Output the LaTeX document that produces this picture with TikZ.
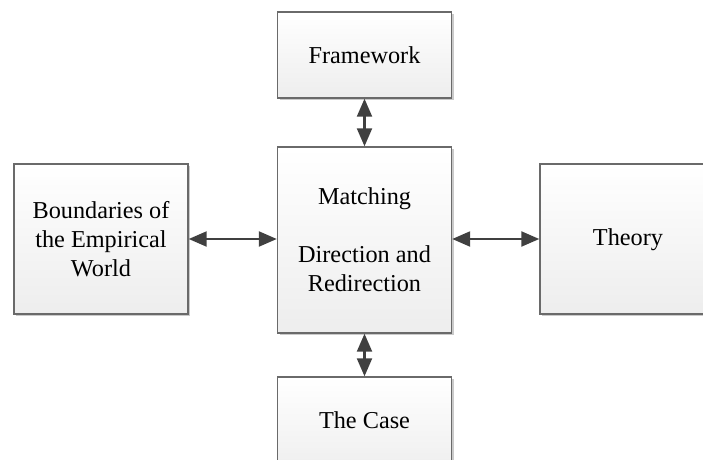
\documentclass[tikz,border=0pt]{standalone}
\usepackage{fontspec}
\setmainfont{Liberation Serif}
\usetikzlibrary{arrows.meta,shadows}
\definecolor{boxline}{HTML}{6A6A6A}
\definecolor{arrowgray}{HTML}{404040}
\tikzset{
  labeltext/.style={font=\fontsize{18.2}{21.75}\selectfont},
  block/.style={draw=boxline, line width=0.9pt, top color=white, bottom color=black!7,
    minimum width=130.5pt, align=center, inner sep=0pt, labeltext,
    drop shadow={shadow xshift=1.8pt, shadow yshift=-1.8pt, fill=black!35, opacity=0.6}},
  link/.style={draw=arrowgray, line width=2.2pt,
    {Triangle[length=13.5pt,width=11pt]}-{Triangle[length=13.5pt,width=11pt]}},
}
\begin{document}
\begin{tikzpicture}[x=0.75pt, y=-0.75pt]
  \useasboundingbox (0,0) rectangle (703,460);
  \clip (0,0) rectangle (703,460);
  \node[block, minimum height=64.5pt] (fw) at (364.5,55) {Framework};
  \node[block, minimum height=139.5pt] (mid) at (364.5,240)
    {Matching\\[21.75pt]Direction and\\Redirection};
  \node[block, minimum height=75pt] (case) at (364.5,427) {};
  \node[labeltext] (casetext) at (364.5,420) {The Case};
  \node[block, minimum height=112.5pt] (emp) at (101,239)
    {Boundaries of\\the Empirical\\World};
  \node[block, minimum height=112.5pt] (th) at (627,239) {};
  \node[labeltext] (thtext) at (628,240) {Theory};
  \draw[link] (fw.south) -- (mid.north);
  \draw[link] (mid.south) -- (case.north);
  \draw[link] (emp.east) -- (emp.east -| mid.west);
  \draw[link] (th.west -| mid.east) -- (th.west);
\end{tikzpicture}
\end{document}
